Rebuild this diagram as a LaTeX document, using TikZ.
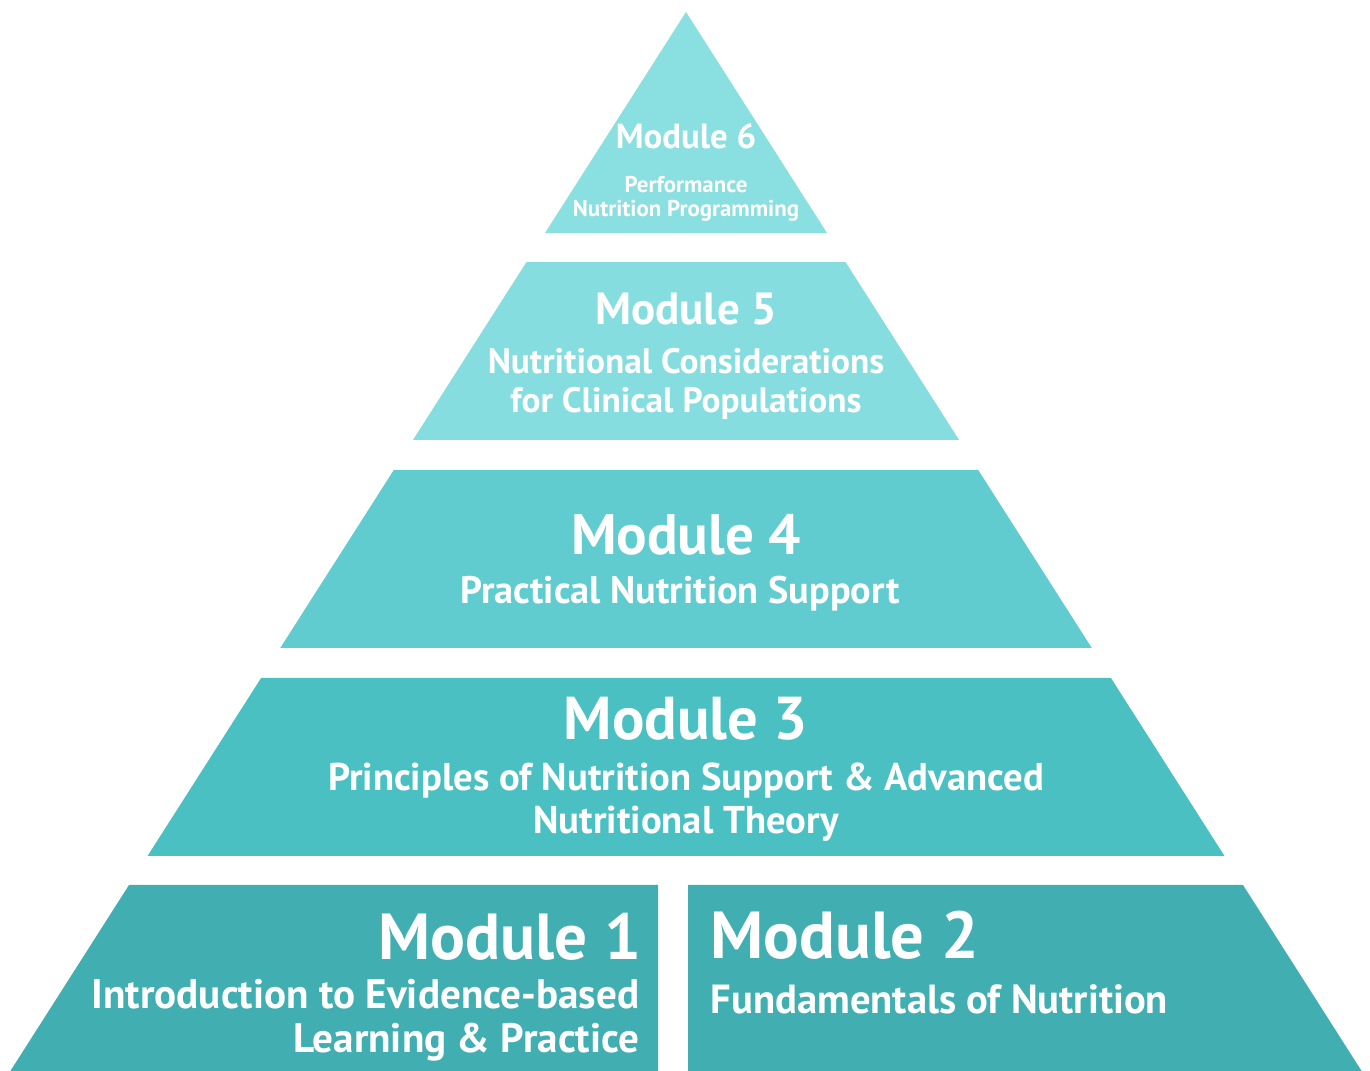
\documentclass[tikz,border=0pt]{standalone}
\usepackage{fontspec}
\setmainfont{PT Sans}
\definecolor{msix}{RGB}{138,223,224}
\definecolor{mfive}{RGB}{134,221,223}
\definecolor{mfour}{RGB}{96,204,207}
\definecolor{mthree}{RGB}{75,192,195}
\definecolor{mbase}{RGB}{65,175,178}
\tikzset{
  modtitle/.style={text=white, inner sep=0pt, align=center},
  modsub/.style={text=white, inner sep=0pt, align=center},
}
\begin{document}
\begin{tikzpicture}[x=0.01cm, y=-0.01cm]
\useasboundingbox (0,0) rectangle (1370,1071);
% pyramid layers (apex at 686,12)
\fill[msix] (686,12) -- (545,233) -- (827,233) -- cycle;
\foreach \t/\b/\c in {262/440/mfive, 470/648/mfour, 678/856/mthree}
  \fill[\c] ({686-0.638*(\t-12)},\t) -- ({686+0.638*(\t-12)},\t)
    -- ({686+0.638*(\b-12)},\b) -- ({686-0.638*(\b-12)},\b) -- cycle;
\fill[mbase] (129,885) -- (658,885) -- (658,1071) -- (10.4,1071) -- cycle;
\fill[mbase] (688,885) -- (1243,885) -- (1361.6,1071) -- (688,1071) -- cycle;
% labels
\node (m6) [modtitle, font=\bfseries\fontsize{9.9}{12}\selectfont] at (686,136) {Module 6};
\node (m6s) [modsub, font=\bfseries\fontsize{6.5}{6.8}\selectfont] at (686,199) {Performance\\Nutrition Programming};
\node (m5) [modtitle, font=\bfseries\fontsize{12.8}{15}\selectfont] at (686,309) {Module 5};
\node (m5s) [modsub, font=\bfseries\fontsize{10.05}{11.1}\selectfont] at (686,384) {Nutritional Considerations\\for Clinical Populations};
\node (m4) [modtitle, font=\bfseries\fontsize{16.2}{19}\selectfont] at (686,535) {Module 4};
\node (m4s) [modsub, font=\bfseries\fontsize{10.9}{12}\selectfont] at (680,594) {Practical Nutrition Support};
\node (m3) [modtitle, font=\bfseries\fontsize{17.2}{20}\selectfont] at (686,719) {Module 3};
\node (m3s) [modsub, font=\bfseries\fontsize{11}{12.2}\selectfont] at (686,802) {Principles of Nutrition Support \& Advanced\\Nutritional Theory};
\node (m1) [modtitle, anchor=east, font=\bfseries\fontsize{18.5}{21}\selectfont] at (642,937) {Module 1};
\node (m1s) [modsub, anchor=east, align=right, font=\bfseries\fontsize{11.7}{12.5}\selectfont] at (640,1020) {Introduction to Evidence-based\\Learning \& Practice};
\node (m2) [modtitle, anchor=west, font=\bfseries\fontsize{18.9}{21}\selectfont] at (710,935) {Module 2};
\node (m2s) [modsub, anchor=west, font=\bfseries\fontsize{11.55}{12.5}\selectfont] at (710,999) {Fundamentals of Nutrition};
\end{tikzpicture}
\end{document}
